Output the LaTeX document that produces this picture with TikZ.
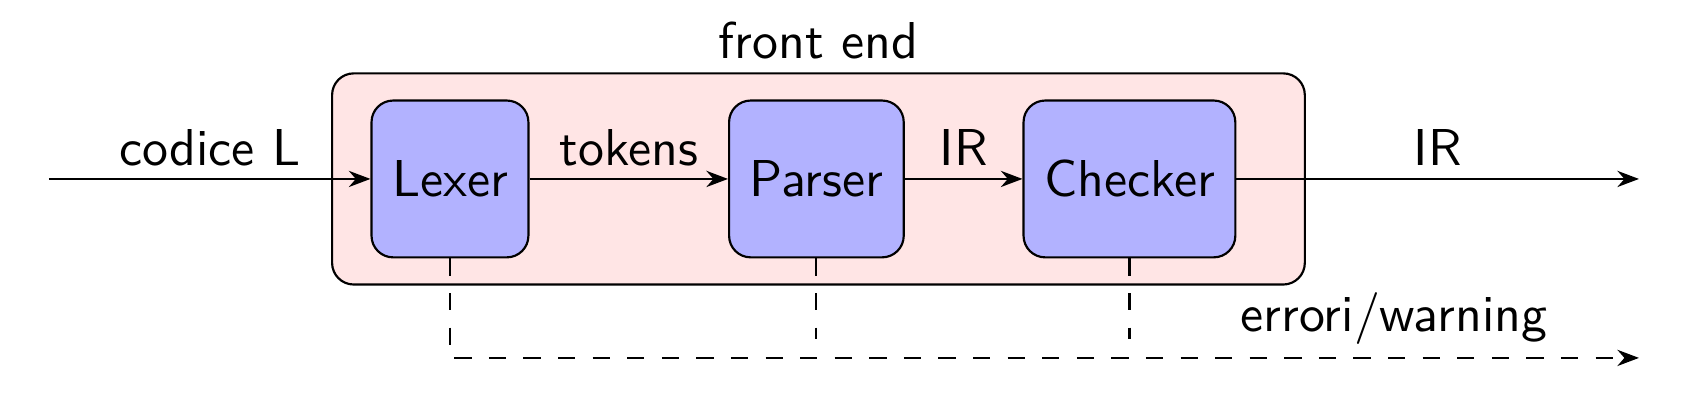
\documentclass[tikz,border=0pt]{standalone}
\usepackage{amsmath}
\usepackage{fontspec}
\newfontfamily\diagsf{lmsans10-regular.otf}
\usepackage{tikz}
\usetikzlibrary{positioning,arrows.meta}

\begin{document}
\begin{tikzpicture}[font=\diagsf\fontsize{14.4}{17}\selectfont, semithick, >={Stealth[length=6pt,width=4.5pt]},
        phase/.style={draw, rounded corners=6pt, fill=blue!30, inner xsep=5.7pt, minimum width=1.5cm, minimum height=1.53cm},
        frontend/.style={draw, rounded corners=6pt, fill=red!10, minimum width=9.49cm, minimum height=2.06cm},
        err/.style={dash pattern=on 4.8pt off 4.8pt}]
        \useasboundingbox (-4.39,-2.176) rectangle (12.215,1.746);
        \node[frontend, label={above:front end}] (fe) at (3.595,0) {};
        \node[phase] (lexer) at (0,0) {Lexer};
        \node[phase] (parser) at (3.575,0) {Parser};
        \node[phase] (checker) at (6.629,0) {Checker};
        \coordinate (in) at (-3.912,0);
        \coordinate (out) at (11.6,0);
        \coordinate (errline) at (0,-1.558);
        \coordinate (errout) at (11.6,-1.746);
        \draw[->] (in) -- node[above]{codice L} (lexer);
        \draw[->] (lexer) -- node[above]{tokens} (parser);
        \draw[->] (parser) -- node[above]{IR} (checker);
        \draw[->] (checker) -- node[above]{IR} (out);
        \draw[err,->] (lexer.south) |- node[pos=0.897, above]{errori/warning} (errout);
        \foreach \n in {parser,checker}
            \draw[err] (\n.south) -- (\n |- errline);
        %\draw (fe.south) -- (errline);
    \end{tikzpicture}
\end{document}
